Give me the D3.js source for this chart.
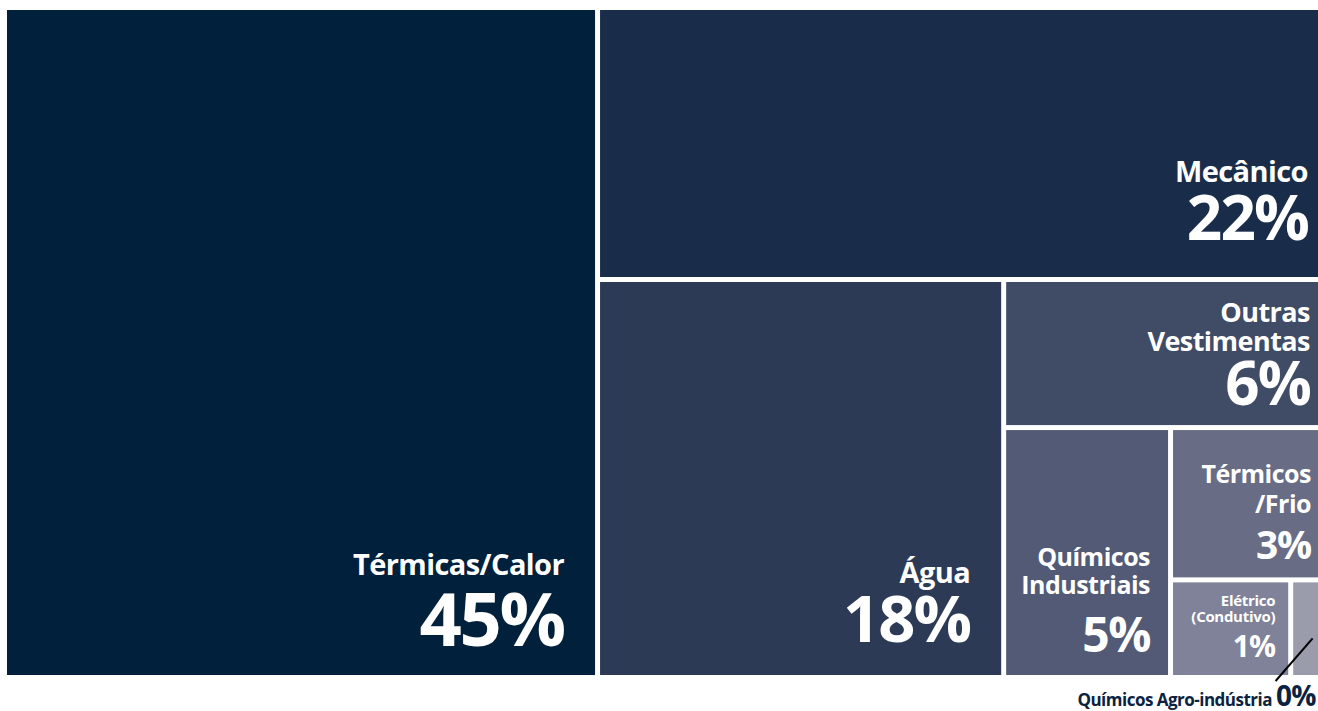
<!DOCTYPE html>
<meta charset="utf-8">
<style>
body {
  margin: 0;
  background: #fff;
  font-family: 'Open Sans', 'Noto Sans', sans-serif;
}
svg {
  display: block;
}
text {
  fill: #fff;
  font-weight: 700;
}
</style>
<body>
<script src="https://cdn.jsdelivr.net/npm/d3@7"></script>
<script>

// categories, estimated shares (from tile areas) and printed labels
var categories = ["Térmicas/Calor", "Mecânico", "Água", "Outras Vestimentas",
                  "Químicos Industriais", "Térmicos/Frio", "Elétrico (Condutivo)", "Químicos Agro-indústria"];
var values = [45.06, 22.30, 18.33, 5.32, 4.73, 2.59, 1.33, 0.33];
var pctLabels = ["45%", "22%", "18%", "6%", "5%", "3%", "1%", "0%"];
var nameLines = [["Térmicas/Calor"], ["Mecânico"], ["Água"], ["Outras", "Vestimentas"],
                 ["Químicos", "Industriais"], ["Térmicos", "/Frio"], ["Elétrico", "(Condutivo)"], ["Químicos Agro-indústria"]];
var colors = ["#00203b", "#192d4a", "#2c3a56", "#404b66", "#525a75", "#686c85", "#7f8298", "#9a9cac"];

// label styling per tile: right pad, pct baseline from bottom, sizes, gap, line height
var labelStyle = [
  {pad: 31, bottom: 29, pct: 74, name: 29, gap: 71, lh: 30},
  {pad: 10, bottom: 37, pct: 62, name: 29, gap: 58, lh: 30},
  {pad: 31, bottom: 33, pct: 65, name: 29, gap: 59, lh: 30},
  {pad: 8,  bottom: 20, pct: 60, name: 27, gap: 54, lh: 29},
  {pad: 18, bottom: 23, pct: 48, name: 25, gap: 58, lh: 28},
  {pad: 7,  bottom: 18, pct: 39, name: 25, gap: 46, lh: 30},
  {pad: 13, bottom: 18, pct: 30, name: 15, gap: 35, lh: 16},
  null
];

var W = 1318, H = 711;
var margin = {left: 7, top: 10},
    width = 1311, height = 665;

// build the spiral nesting: each level splits one tile off the rest
function nest(i) {
  var leaf = {i: i, value: values[i]};
  if (i === categories.length - 1) return leaf;
  if (i === categories.length - 2) return {children: [leaf, {i: i + 1, value: values[i + 1]}]};
  return {children: [leaf, nest(i + 1)]};
}

var root = d3.hierarchy(nest(0))
    .sum(function(d) { return d.value || 0; });

d3.treemap()
    .tile(d3.treemapSliceDice)
    .size([width, height])
    .paddingInner(5)
    (root);

var svg = d3.select("body").append("svg")
    .attr("width", W)
    .attr("height", H);

var g = svg.append("g")
    .attr("transform", "translate(" + margin.left + "," + margin.top + ")");

var leaves = root.leaves();

var cell = g.selectAll("g.cell")
    .data(leaves)
  .enter().append("g")
    .attr("class", "cell");

cell.append("rect")
    .attr("x", function(d) { return d.x0; })
    .attr("y", function(d) { return d.y0; })
    .attr("width", function(d) { return d.x1 - d.x0; })
    .attr("height", function(d) { return d.y1 - d.y0; })
    .style("fill", function(d) { return colors[d.data.i]; });

cell.filter(function(d) { return labelStyle[d.data.i]; }).each(function(d) {
  var s = labelStyle[d.data.i],
      el = d3.select(this),
      x = d.x1 - s.pad,
      base = d.y1 - s.bottom,
      lines = nameLines[d.data.i];

  el.append("text")
      .attr("x", x)
      .attr("y", base)
      .attr("text-anchor", "end")
      .style("font-size", s.pct + "px")
      .style("letter-spacing", "-0.03em")
      .text(pctLabels[d.data.i]);

  lines.forEach(function(line, k) {
    el.append("text")
        .attr("x", x)
        .attr("y", base - s.gap - (lines.length - 1 - k) * s.lh)
        .attr("text-anchor", "end")
        .style("font-size", s.name + "px")
        .style("letter-spacing", "-0.02em")
        .text(line);
  });
});

// smallest tile gets an outside label with a leader line
var last = leaves.filter(function(d) { return d.data.i === categories.length - 1; })[0];
var cx = (last.x0 + last.x1) / 2;

g.append("line")
    .attr("x1", cx + 7)
    .attr("y1", last.y0 + 56)
    .attr("x2", cx - 30)
    .attr("y2", last.y1 + 6)
    .style("stroke", "#000")
    .style("stroke-width", 2);

var outside = g.append("text")
    .attr("x", last.x1 - 2)
    .attr("y", last.y1 + 31)
    .attr("text-anchor", "end")
    .style("fill", "#0c2340");

outside.append("tspan")
    .style("font-size", "17px")
    .style("letter-spacing", "-0.03em")
    .text(nameLines[last.data.i][0] + " ");

outside.append("tspan")
    .style("font-size", "28px")
    .style("letter-spacing", "-0.02em")
    .text(pctLabels[last.data.i]);

</script>
</body>
